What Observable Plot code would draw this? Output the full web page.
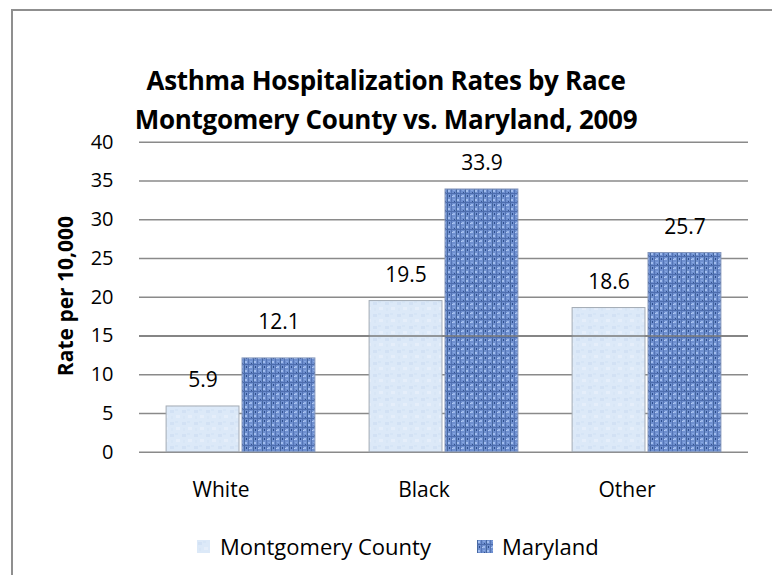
<!DOCTYPE html>
<html>
<head>
<meta charset="utf-8">
<script src="https://cdn.jsdelivr.net/npm/d3@7"></script>
<script src="https://cdn.jsdelivr.net/npm/@observablehq/plot@0.6"></script>
<style>
  html, body { margin: 0; padding: 0; background: #fff; overflow: hidden; }
  #wrap { position: relative; width: 772px; height: 575px; overflow: hidden; font-family: "Open Sans", sans-serif; color: #000; }
  #frame { position: absolute; left: 11px; top: 9px; width: 800px; height: 620px; border: 2px solid #8f8f8f; box-sizing: border-box; }
  #title { position: absolute; left: 0; top: 61px; width: 772px; text-align: center; font-weight: bold; font-size: 26px; line-height: 39px; letter-spacing: -0.3px; }
  #chart { position: absolute; left: 0; top: 0; }
  #ylab { position: absolute; left: 65px; top: 296px; transform: translate(-50%, -50%) rotate(-90deg); font-weight: bold; font-size: 21px; white-space: nowrap; }
  #legend { position: absolute; left: 0; top: 531px; width: 772px; height: 30px; }
  .leg { position: absolute; top: 0; display: flex; align-items: center; font-size: 22px; height: 30px; white-space: nowrap; }
  .sw { display: inline-block; }
</style>
</head>
<body>
<div id="wrap">
  <div id="frame"></div>
  <div id="chart"></div>
  <div id="title">Asthma Hospitalization Rates by Race<br>Montgomery County vs. Maryland, 2009</div>
  <div id="ylab">Rate per 10,000</div>
  <div id="legend"></div>
</div>
<script>
// ---- data ----
const categories = ["White", "Black", "Other"];
const seriesNames = ["Montgomery County", "Maryland"];
const montgomery = [5.9, 19.5, 18.6];
const maryland = [12.1, 33.9, 25.7];
const yTicks = [0, 5, 10, 15, 20, 25, 30, 35, 40];

const rows = [];
categories.forEach((c, i) => {
  rows.push({category: c, series: seriesNames[0], value: montgomery[i]});
  rows.push({category: c, series: seriesNames[1], value: maryland[i]});
});

const patternDefs = `
  <pattern id="pLight" width="12" height="12" patternUnits="userSpaceOnUse">
    <rect width="12" height="12" fill="#dce9f8"/>
    <rect x="1" y="2" width="4" height="3" fill="#d2e1f4"/>
    <rect x="7" y="7" width="4" height="3" fill="#e5eefa"/>
    <rect x="6" y="1" width="3" height="2" fill="#d6e5f6"/>
    <rect x="2" y="8" width="2" height="3" fill="#d8e6f6"/>
  </pattern>
  <pattern id="pDenim" width="9" height="9" patternUnits="userSpaceOnUse">
    <rect width="9" height="9" fill="#6f90d0"/>
    <rect x="0" y="0" width="1" height="9" fill="#46679f"/>
    <rect x="4" y="0" width="1" height="9" fill="#5474b5"/>
    <rect x="0" y="4" width="9" height="1" fill="#4d6dae"/>
    <rect x="1" y="1" width="2" height="2" fill="#a2bdee"/>
    <rect x="6" y="6" width="2" height="2" fill="#9cb8eb"/>
    <rect x="6" y="1" width="2" height="1" fill="#86a6e0"/>
    <rect x="2" y="6" width="1" height="2" fill="#2f4f8e"/>
    <rect x="7" y="3" width="1" height="1" fill="#34538f"/>
    <rect x="5" y="7" width="1" height="1" fill="#b3cbf3"/>
  </pattern>`;

const isNudged = d => d.category === "White" && d.series === "Maryland";

const chart = Plot.plot({
  width: 772,
  height: 520,
  marginLeft: 138,
  marginRight: 24,
  marginTop: 141.7,
  marginBottom: 68.3,
  style: {fontFamily: "Open Sans", fontSize: "20px", color: "#000", background: "transparent"},
  fx: {domain: categories, padding: 0, label: null},
  x: {domain: seriesNames, paddingInner: 0.04, paddingOuter: 0.357, round: false, axis: null},
  y: {domain: [0, 40], label: null},
  color: {domain: seriesNames, range: ["url(#pLight)", "url(#pDenim)"]},
  marks: [
    Plot.gridY(yTicks, {stroke: "#8a8a8a", strokeOpacity: 1, strokeWidth: 1.5}),
    Plot.barY(rows, {fx: "category", x: "series", y: "value", fill: "series",
      stroke: d => d.series === seriesNames[0] ? "#a3abb4" : "#8496ba", strokeWidth: 1}),
    Plot.ruleY([15], {stroke: "#7a7a7a", strokeWidth: 1.5}),
    Plot.text(rows.filter(d => !isNudged(d)), {fx: "category", x: "series", y: "value", text: d => d.value.toFixed(1),
      dy: -26, fontSize: 21, fill: "#000"}),
    Plot.text(rows.filter(isNudged), {fx: "category", x: "series", y: "value", text: d => d.value.toFixed(1),
      dy: -36, fontSize: 21, fill: "#000"}),
    Plot.axisY(yTicks, {tickSize: 0, tickPadding: 26, fontSize: 20, tickFormat: d => String(d), label: null}),
    Plot.axisFx({anchor: "bottom", tickSize: 0, tickPadding: 30, fontSize: 21, dx: -20, label: null})
  ]
});
const defs = document.createElementNS("http://www.w3.org/2000/svg", "defs");
defs.innerHTML = patternDefs;
chart.insertBefore(defs, chart.firstChild);
document.getElementById("chart").appendChild(chart);

// legend
const legend = document.getElementById("legend");
const legendPos = [197, 477];
const swatchW = [13, 16];
const swatchGap = [10, 9];
seriesNames.forEach((name, i) => {
  const item = document.createElement("div");
  item.className = "leg";
  item.style.left = legendPos[i] + "px";
  const sw = `<svg class="sw" width="${swatchW[i]}" height="13" style="margin-right:${swatchGap[i]}px"><defs>${patternDefs.replace(/id="p/g, 'id="L' + i + 'p')}</defs>
    <rect width="${swatchW[i]}" height="13" fill="url(#L${i}p${i === 0 ? "Light" : "Denim"})"/></svg>`;
  item.innerHTML = sw + `<span>${name}</span>`;
  legend.appendChild(item);
});
</script>
</body>
</html>
